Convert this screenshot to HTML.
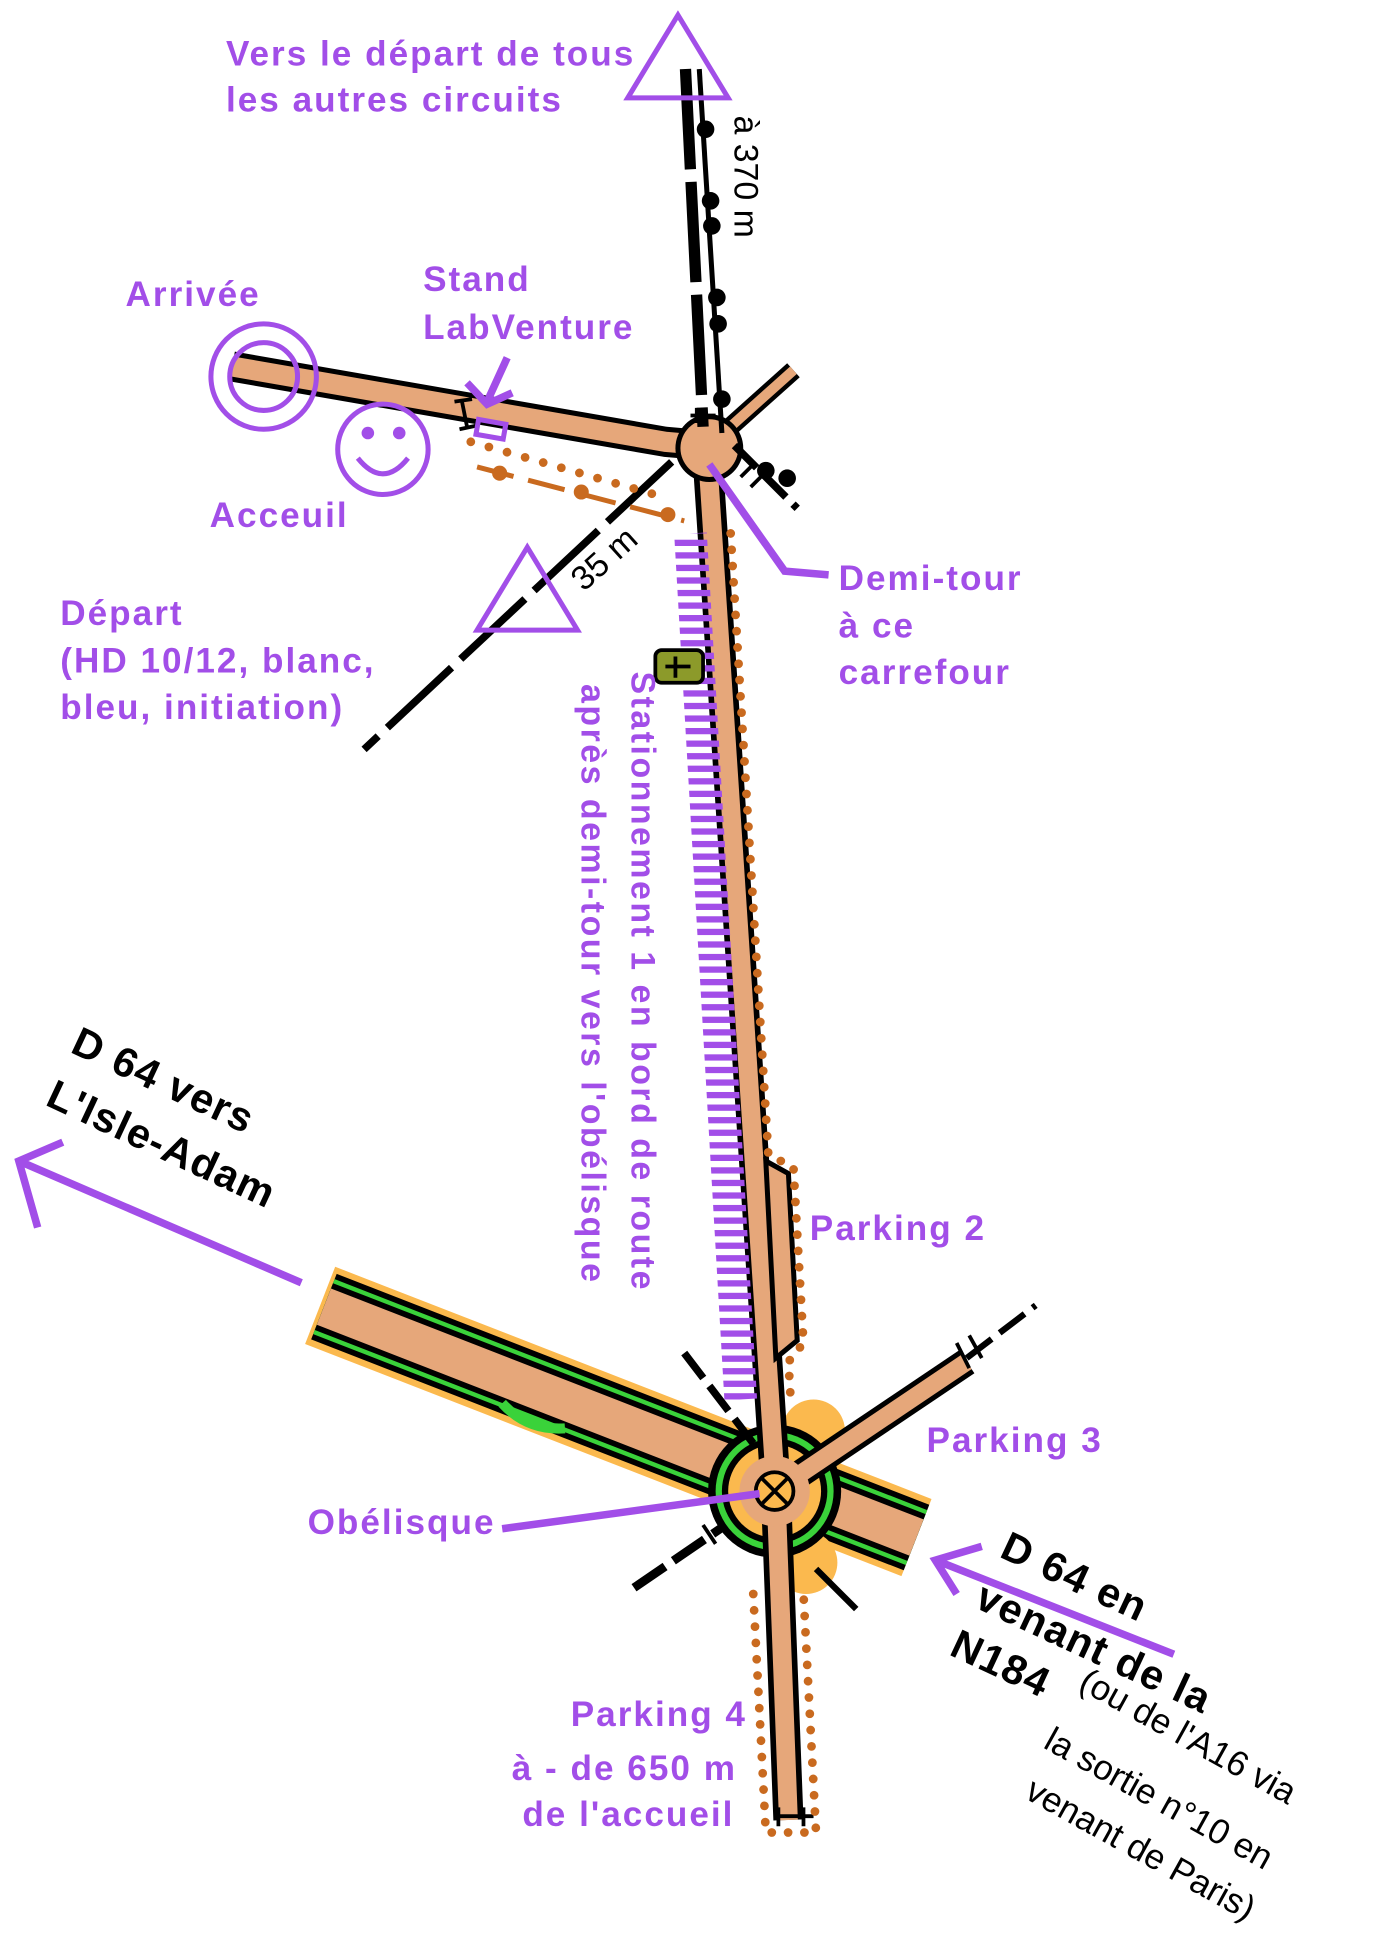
<!DOCTYPE html>
<html><head><meta charset="utf-8"><style>html,body{margin:0;padding:0;background:#fff}svg{display:block}</style></head><body>
<svg width="1381" height="1953" viewBox="0 0 1100 1556" preserveAspectRatio="none" xmlns="http://www.w3.org/2000/svg" font-family="Liberation Sans, sans-serif">
<defs>
<pattern id="h" width="4" height="10" patternUnits="userSpaceOnUse"><rect width="4" height="5" fill="#a24ee8"/></pattern>
</defs>
<g fill="none" stroke-linecap="butt">
<!-- D64 big road -->
<path d="M255,1040 L730,1225" stroke="#fbb94e" stroke-width="66"/>
<path d="M258,1041 L730,1225" stroke="#000" stroke-width="56"/>
<path d="M258,1041 L730,1225" stroke="#3ad23a" stroke-width="47"/>
<path d="M258,1041 L730,1225" stroke="#000" stroke-width="40"/>
<path d="M258,1041 L730,1225" stroke="#e6a77a" stroke-width="31"/>
<path d="M400,1118 Q420,1140 450,1138" stroke="#3ad23a" stroke-width="8"/>
<!-- orange areas -->
<circle cx="648" cy="1140" r="25" fill="#fbb94e" stroke="none"/>
<circle cx="642" cy="1245" r="25" fill="#fbb94e" stroke="none"/>
<!-- roundabout -->
<circle cx="617" cy="1188" r="53" fill="#000" stroke="none"/>
<circle cx="617" cy="1188" r="47" fill="#3ad23a" stroke="none"/>
<circle cx="617" cy="1188" r="42" fill="#000" stroke="none"/>
<circle cx="617" cy="1188" r="37" fill="#fbb94e" stroke="none"/>
<!-- main N-S road -->
<path d="M563,355 L618,1188 L628,1450" stroke="#000" stroke-width="24" stroke-linejoin="round"/>
<path d="M563,355 L618,1188 L628,1450" stroke="#e6a77a" stroke-width="15" stroke-linejoin="round"/>
<!-- NE parking 3 road -->
<path d="M617,1188 L770,1085" stroke="#000" stroke-width="22"/>
<path d="M617,1188 L770,1085" stroke="#e6a77a" stroke-width="14"/>
<circle cx="617" cy="1188" r="28" fill="#e6a77a" stroke="none"/>
<circle cx="617" cy="1188" r="15" fill="#fbb94e" stroke="#000" stroke-width="3"/>
<path d="M607,1178 L627,1198 M627,1178 L607,1198" stroke="#000" stroke-width="3"/>
<!-- parking 2 bay -->
<path d="M610,925 L628,935 L635,1068 L618,1082 Z" fill="#e6a77a" stroke="#000" stroke-width="4"/>
<!-- top road from arrivee -->
<path d="M185,292 L530,352 L565,355" stroke="#000" stroke-width="24" stroke-linejoin="round"/>
<path d="M185,292 L530,352 L565,355" stroke="#e6a77a" stroke-width="16" stroke-linejoin="round"/>
<path d="M565,355 L632,295" stroke="#000" stroke-width="15"/>
<path d="M565,355 L632,295" stroke="#e6a77a" stroke-width="8"/>
<circle cx="565" cy="357" r="27" fill="#000" stroke="none"/>
<circle cx="565" cy="357" r="23" fill="#e6a77a" stroke="none"/>
<!-- black railway lines -->
<path d="M546,55 L560,340" stroke="#000" stroke-width="9" stroke-dasharray="80,10"/>
<path d="M557,55 L575,345" stroke="#000" stroke-width="4"/>
<g fill="#000" stroke="none"><circle cx="562" cy="103" r="7"/><circle cx="566" cy="160" r="7"/><circle cx="567" cy="180" r="7"/><circle cx="571" cy="237" r="7"/><circle cx="572" cy="258" r="7"/><circle cx="575" cy="318" r="7"/><circle cx="610" cy="375" r="7"/><circle cx="627" cy="381" r="7"/></g>
<path d="M585,355 L635,405" stroke="#000" stroke-width="6" stroke-dasharray="25,8"/>
<path d="M555,325 L555,337 M550,331 L570,331" stroke="#000" stroke-width="3"/>
<path d="M590,380 L600,370 M598,388 L608,378" stroke="#000" stroke-width="3"/>
<!-- dashed black paths -->
<path d="M535,368 L290,597" stroke="#000" stroke-width="6" stroke-dasharray="70,10"/>
<path d="M770,1082 L825,1040" stroke="#000" stroke-width="5" stroke-dasharray="25,8"/>
<path d="M545,1078 L600,1150" stroke="#000" stroke-width="6" stroke-dasharray="25,8"/>
<path d="M505,1265 L578,1215" stroke="#000" stroke-width="7" stroke-dasharray="30,8"/>
<path d="M650,1250 L682,1282" stroke="#000" stroke-width="5"/>
<path d="M762,1070 L772,1090 M772,1064 L782,1082" stroke="#000" stroke-width="3"/>
<path d="M560,1215 L570,1230 M570,1205 L580,1222" stroke="#000" stroke-width="3"/>
<path d="M620,1440 L620,1455 M640,1440 L640,1455 M618,1447 L648,1447" stroke="#000" stroke-width="3"/>
<path d="M368,320 L372,340 M362,320 L376,318 M366,342 L380,339" stroke="#000" stroke-width="3"/>
<!-- orange dotted -->
<path d="M375,352 L525,395" stroke="#c96a1f" stroke-width="7" stroke-dasharray="0,15" stroke-linecap="round"/>
<path d="M380,372 L545,415" stroke="#c96a1f" stroke-width="4" stroke-dasharray="30,12"/>
<g fill="#c96a1f" stroke="none"><circle cx="398" cy="377" r="6"/><circle cx="463" cy="392" r="6"/><circle cx="532" cy="410" r="6"/></g>
<path d="M582,425 L612,920 L632,930 L640,1070 L628,1085 L630,1118" stroke="#c96a1f" stroke-width="7" stroke-dasharray="0,13" stroke-linecap="round"/>
<path d="M600,1270 L610,1460 L650,1460 L640,1270" stroke="#c96a1f" stroke-width="7" stroke-dasharray="0,13" stroke-linecap="round"/>
<!-- purple hatch -->
<path d="M550,425 L590,1115" stroke="url(#h)" stroke-width="26"/>
<!-- olive feature -->
<rect x="522" y="518" width="38" height="26" rx="5" fill="#8c9a2a" stroke="#000" stroke-width="3"/>
<path d="M530,531 L550,531 M538,523 L538,540" stroke="#000" stroke-width="3"/>
<!-- purple symbols -->
<g stroke="#a24ee8" stroke-width="4">
<path d="M540,12 L500,78 L580,78 Z"/>
<path d="M420,436 L380,502 L460,502 Z"/>
<circle cx="210" cy="300" r="42"/><circle cx="210" cy="300" r="27"/>
<circle cx="305" cy="358" r="36"/>
<path d="M285,365 Q305,390 325,365"/>
<rect x="380" y="336" width="22" height="12" transform="rotate(10 391 342)"/>
</g>
<g fill="#a24ee8" stroke="none"><circle cx="293" cy="345" r="5"/><circle cx="318" cy="345" r="5"/></g>
<g stroke="#a24ee8" stroke-width="6" stroke-linecap="butt">
<path d="M404,285 L388,320 M372,305 L388,322 L408,313"/>
<path d="M565,370 L625,455 L660,458"/>
<path d="M240,1022 L15,925 M50,910 L15,925 L30,978"/>
<path d="M935,1318 L745,1243 M782,1232 L745,1243 L762,1270"/>
<path d="M400,1218 L605,1190"/>
</g>
</g>
<!-- texts -->
<g fill="#a24ee8" font-weight="bold" font-size="28" letter-spacing="1.6">
<text x="180" y="52">Vers le départ de tous</text>
<text x="180" y="89">les autres circuits</text>
<text x="100" y="244">Arrivée</text>
<text x="337" y="232">Stand</text>
<text x="337" y="270">LabVenture</text>
<text x="167" y="420">Acceuil</text>
<text x="48" y="498">Départ</text>
<text x="48" y="536">(HD 10/12, blanc,</text>
<text x="48" y="573">bleu, initiation)</text>
<text x="668" y="470">Demi-tour</text>
<text x="668" y="508">à ce</text>
<text x="668" y="545">carrefour</text>
<text x="645" y="988">Parking 2</text>
<text x="738" y="1157">Parking 3</text>
<text x="245" y="1222">Obélisque</text>
<text x="595" y="1375" text-anchor="end">Parking 4</text>
<text x="587" y="1418" text-anchor="end">à - de 650 m</text>
<text x="585" y="1455" text-anchor="end">de l'accueil</text>
</g>
<g fill="#a24ee8" font-weight="bold" font-size="27" letter-spacing="2">
<text transform="translate(503,535) rotate(90)">Stationnement 1 en bord de route</text>
<text transform="translate(463,545) rotate(90)">après demi-tour vers l'obélisque</text>
</g>
<g fill="#000" font-size="27">
<text transform="translate(585,92) rotate(90)">à 370 m</text>
<text transform="translate(465,472) rotate(-42)">35 m</text>
</g>
<g fill="#000" font-weight="bold" font-size="33" letter-spacing="1">
<text transform="translate(55,838) rotate(25)">D 64 vers</text>
<text transform="translate(35,880) rotate(25)">L'Isle-Adam</text>
<text transform="translate(795,1240) rotate(25)">D 64 en</text>
<text transform="translate(775,1280) rotate(25)">venant de la</text>
<text transform="translate(755,1318) rotate(25)">N184</text>
</g>
<g fill="#000" font-size="28">
<text transform="translate(858,1345) rotate(29)">(ou de l'A16 via</text>
<text transform="translate(830,1392) rotate(29)">la sortie n°10 en</text>
<text transform="translate(815,1432) rotate(29)">venant de Paris)</text>
</g>
</svg>
</body></html>
